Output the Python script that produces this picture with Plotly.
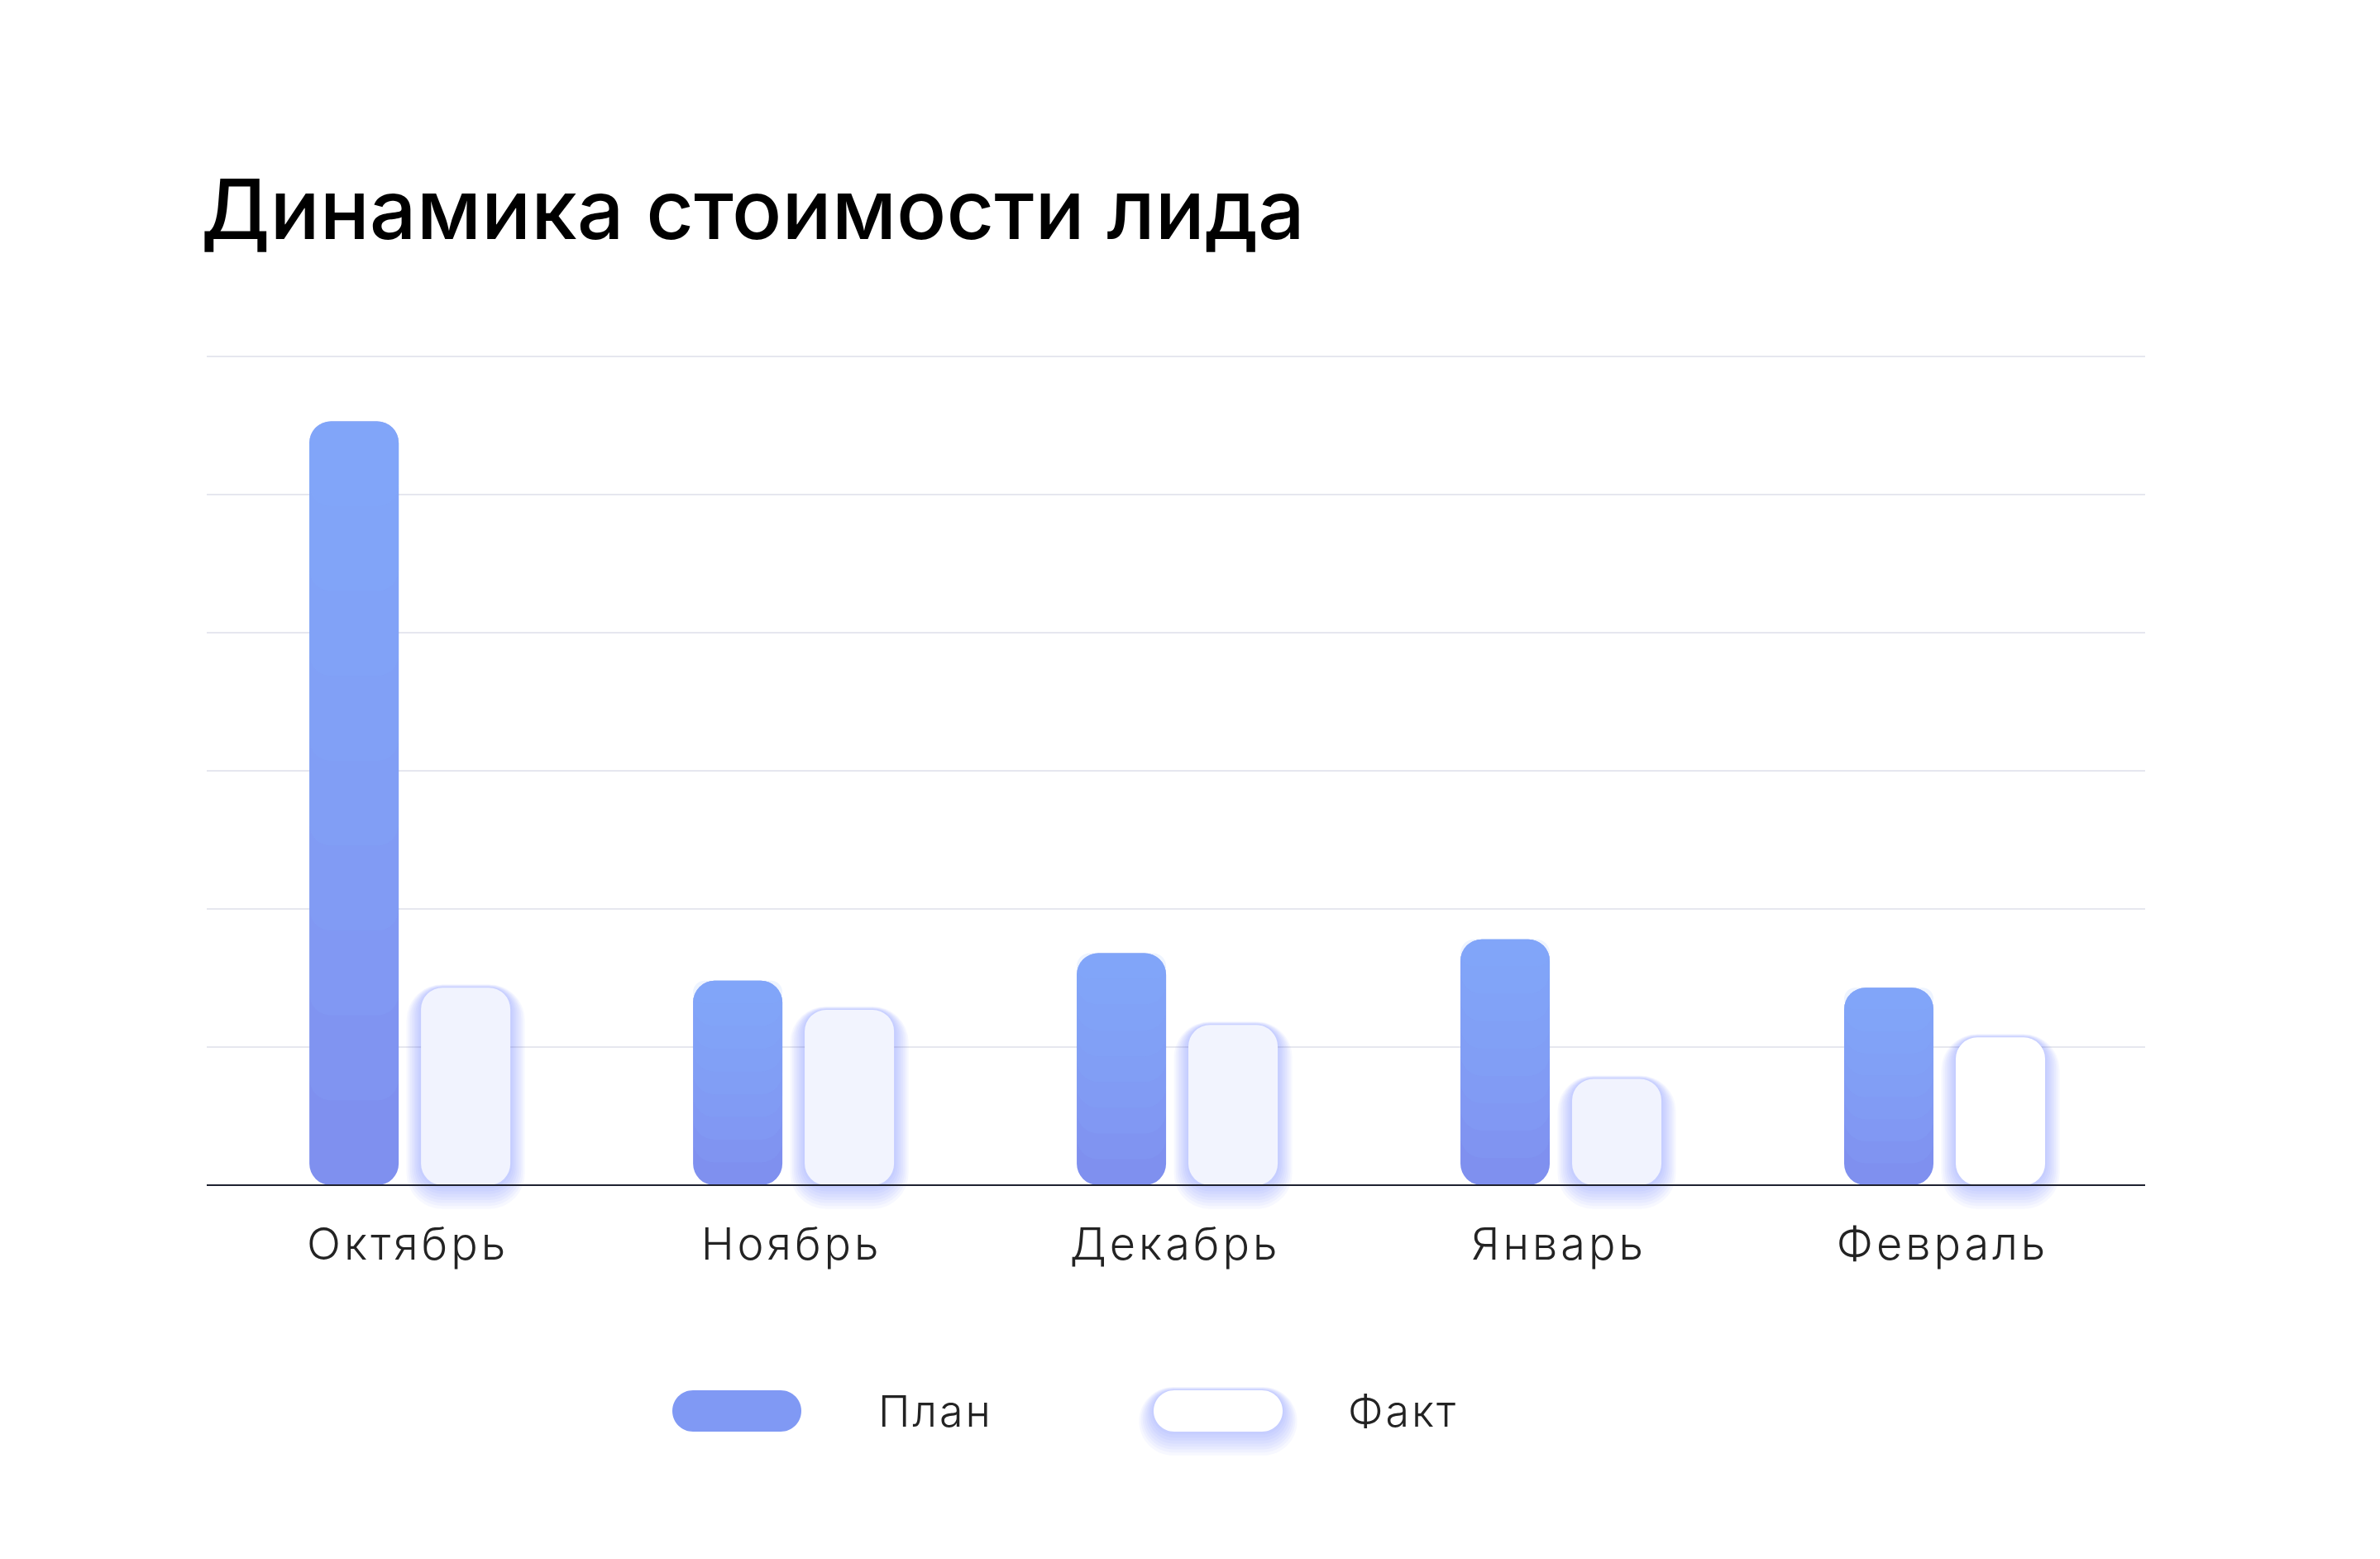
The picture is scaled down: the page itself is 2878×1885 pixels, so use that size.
import plotly.graph_objects as go

# ---------------- data ----------------
months = ["Октябрь", "Ноябрь", "Декабрь", "Январь", "Февраль"]
plan_values = [553, 148, 168, 178, 143]
fact_values = [143, 127, 116, 77, 107]
legend_labels = ["План", "Факт"]
title_text = "Динамика стоимости лида"

# ---------------- geometry / style ----------------
W, H = 2878, 1885
OFF = 8                      # page body margin of the html page
PX_PER_UNIT = 1.67
BELOW_PX = 40                # room under the baseline for the glow
ZERO_PX = 1433 - OFF         # baseline position inside the figure
ML = 250 - OFF
MT = 421
plot_w = 2344
MR = W - ML - plot_w
plot_bottom = ZERO_PX + BELOW_PX
MB = H - plot_bottom
plot_h = plot_bottom - MT
Y_TOP = (ZERO_PX - MT) / PX_PER_UNIT
Y_MIN = -BELOW_PX / PX_PER_UNIT
X_RANGE = [-0.524, 4.528]
UX = (X_RANGE[1] - X_RANGE[0]) / plot_w
UY = 1 / PX_PER_UNIT

BAR_W = 108
PLAN_OFF = -119
FACT_OFF = 16
RADIUS = 26

PLAN_COLOR = "#7F90EF"          # bottom tone of the plan gradient
PLAN_LIGHT = "138,176,255"      # top tone (added in soft layers)
LEGEND_PLAN = "#8099F4"
FACT_COLORS = ["#F1F3FE", "#F2F4FE", "#F2F4FE", "#F1F3FE", "#FFFFFF"]
GLOW = "100,120,250"
TEXT = "#232323"
LABEL_FONT = dict(family="Inter", weight=300, color=TEXT)

fig = go.Figure()
n = len(months)

# soft glow behind the fact bars (outer layers first)
glow_layers = [(2.2 * i, 3.6 * i, 0.5 * i, 0.05) for i in range(8, 0, -1)]
for ds, db, dt, a in glow_layers:
    fig.add_trace(go.Bar(
        x=months, y=[v + (db + dt) * UY for v in fact_values],
        base=[-db * UY] * n,
        offset=(FACT_OFF - ds) * UX, width=(BAR_W + 2 * ds) * UX,
        marker=dict(color=f"rgba({GLOW},{a})", cornerradius=RADIUS + ds, line=dict(width=0)),
        hoverinfo="skip", showlegend=False, name=legend_labels[1]))

# plan bars
fig.add_trace(go.Bar(
    x=months, y=plan_values, base=[0] * n, name=legend_labels[0],
    offset=PLAN_OFF * UX, width=BAR_W * UX,
    marker=dict(color=PLAN_COLOR, cornerradius=RADIUS, line=dict(width=0)),
    showlegend=False))
# vertical gradient shading of the plan bars (lighter towards the top)
STEPS = 8
for k in range(1, STEPS + 1):
    f = k / (STEPS + 1)
    fig.add_trace(go.Bar(
        x=months, y=[v * (1 - f) for v in plan_values], base=[v * f for v in plan_values],
        offset=PLAN_OFF * UX, width=BAR_W * UX,
        marker=dict(color=f"rgba({PLAN_LIGHT},0.14)", cornerradius=RADIUS, line=dict(width=0)),
        hoverinfo="skip", showlegend=False, name=legend_labels[0]))

# fact bars
fig.add_trace(go.Bar(
    x=months, y=fact_values, base=[0] * n, name=legend_labels[1],
    offset=FACT_OFF * UX, width=BAR_W * UX,
    marker=dict(color=FACT_COLORS, cornerradius=RADIUS, line=dict(width=0)),
    showlegend=False))


# ---------------- custom legend ----------------
def px2x(px):
    return (px - OFF - ML) / plot_w


def px2y(py):
    return (plot_bottom - (py - OFF)) / plot_h


def pill_path(cx, cy, w, h):
    r = h / 2
    k = 0.5523 * r
    x0, x1 = cx - w / 2 + r, cx + w / 2 - r
    yt, yb = cy - r, cy + r
    P = lambda x, y: f"{px2x(x):.5f},{px2y(y):.5f}"
    return (f"M{P(x0, yt)} L{P(x1, yt)} "
            f"C{P(x1 + k, yt)} {P(x1 + r, cy - k)} {P(x1 + r, cy)} "
            f"C{P(x1 + r, cy + k)} {P(x1 + k, yb)} {P(x1, yb)} "
            f"L{P(x0, yb)} "
            f"C{P(x0 - k, yb)} {P(x0 - r, cy + k)} {P(x0 - r, cy)} "
            f"C{P(x0 - r, cy - k)} {P(x0 - k, yt)} {P(x0, yt)} Z")


def spaced(t, s):
    return f'<span style="letter-spacing:{s}px">{t}</span>'


LEG_Y = 1706
LEG_W, LEG_H = 156, 50
leg_items = [
    (891, 1060, LEGEND_PLAN, False),
    (1473, 1628, "#FFFFFF", True),
]
shapes = []
annotations = []
for (cx, tx, col, glow), label in zip(leg_items, legend_labels):
    if glow:
        for ds, db, dt, a in glow_layers:
            shapes.append(dict(type="path", xref="paper", yref="paper", layer="above",
                               path=pill_path(cx, LEG_Y + (db - dt) / 2, LEG_W + 2 * ds,
                                              LEG_H + db + dt),
                               fillcolor=f"rgba({GLOW},{a})", line=dict(width=0)))
    shapes.append(dict(type="path", xref="paper", yref="paper", layer="above",
                       path=pill_path(cx, LEG_Y, LEG_W, LEG_H),
                       fillcolor=col, line=dict(width=0)))
    annotations.append(dict(text=spaced(label, 3), xref="paper", yref="paper",
                            x=px2x(tx), y=px2y(LEG_Y), xanchor="left", yanchor="middle",
                            showarrow=False, font=dict(size=52, **LABEL_FONT)))

fig.update_layout(
    width=W, height=H, autosize=False,
    margin=dict(l=ML, r=MR, t=MT, b=MB),
    paper_bgcolor="white", plot_bgcolor="white",
    barmode="overlay",
    showlegend=False,
    title=dict(text=title_text, x=(243 - OFF) / W, xanchor="left", xref="container",
               y=1 - (254 - OFF) / H, yanchor="middle", yref="container",
               font=dict(family="Inter", size=100, weight=500, color="#000000")),
    xaxis=dict(type="category", range=X_RANGE,
               tickvals=months, ticktext=[spaced(m, 4) for m in months],
               showgrid=False, zeroline=False,
               showline=True, linecolor="#1F2230", linewidth=2,
               anchor="free", position=BELOW_PX / plot_h, layer="above traces",
               ticks="", ticklabelstandoff=24,
               tickfont=dict(size=54, **LABEL_FONT)),
    yaxis=dict(range=[Y_MIN, Y_TOP], dtick=100, tick0=0,
               showgrid=True, gridcolor="#E6E7EF", gridwidth=2,
               zeroline=False, showticklabels=False, ticks=""),
    shapes=shapes,
    annotations=annotations,
)

fig.write_html("out.html")
